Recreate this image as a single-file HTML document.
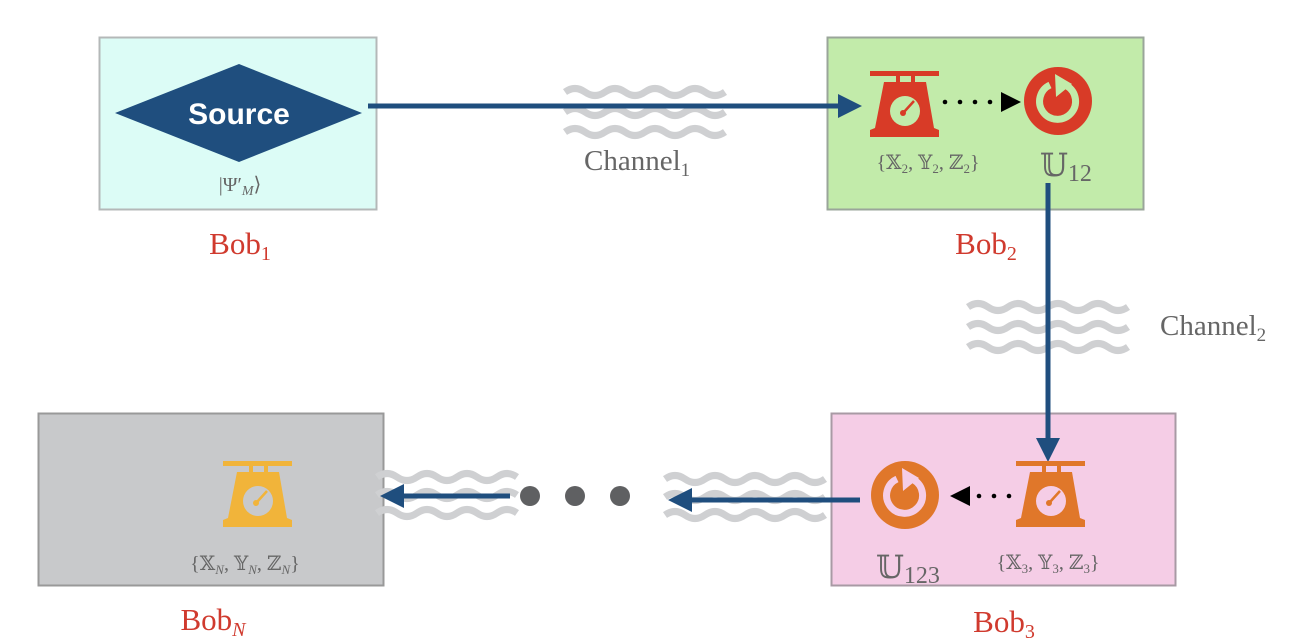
<!DOCTYPE html>
<html><head><meta charset="utf-8"><style>
body{margin:0;background:#fff;}
svg{display:block;font-family:"Liberation Serif","DejaVu Serif",serif;}
</style></head><body>
<svg width="1311" height="644" viewBox="0 0 1311 644" xmlns="http://www.w3.org/2000/svg">
<defs>
<g id="wave">
<path d="M0,0 q10,-7 20,0 t20,0 t20,0 t20,0 t20,0 t20,0 t20,0 t20,0" fill="none" stroke="#cfd0d2" stroke-width="7"/>
</g>
<g id="wave7">
<path d="M0,0 q10,-7 20,0 t20,0 t20,0 t20,0 t20,0 t20,0 t20,0" fill="none" stroke="#cfd0d2" stroke-width="7"/>
</g>
</defs>

<!-- Box 1 -->
<rect x="99.5" y="37.5" width="277" height="172" fill="#dcfcf6" stroke="#b4b8b8" stroke-width="2"/>
<polygon points="115,113 239,64 362,113 239,162" fill="#1f4e7e"/>
<text x="239" y="124" text-anchor="middle" fill="#fff" font-family="Liberation Sans,sans-serif" font-weight="bold" font-size="30">Source</text>
<text x="240" y="191" text-anchor="middle" fill="#666" font-size="20">|Ψ′<tspan font-style="italic" font-size="14" dy="4">M</tspan><tspan dy="-4">⟩</tspan></text>
<text x="240" y="254" text-anchor="middle" fill="#d03a2e" font-size="31">Bob<tspan font-size="20" dy="6">1</tspan></text>

<!-- Channel 1 -->
<use href="#wave" x="565" y="92"/><use href="#wave" x="565" y="112"/><use href="#wave" x="565" y="132"/>
<text x="584" y="170" fill="#666" font-size="29">Channel<tspan font-size="19" dy="6">1</tspan></text>
<line x1="368" y1="106" x2="842" y2="106" stroke="#1f4e7e" stroke-width="5"/>

<!-- Box 2 -->
<rect x="827.5" y="37.5" width="316" height="172" fill="#c2ebaa" stroke="#9aa59a" stroke-width="2"/>
<line x1="826" y1="106" x2="842" y2="106" stroke="#1f4e7e" stroke-width="5"/>
<polygon points="838,94 862,106 838,118" fill="#1f4e7e"/>
<g fill="#d83b27">
<rect x="870" y="71" width="69" height="5"/><rect x="896" y="75" width="4" height="8"/><rect x="911" y="75" width="4" height="8"/>
<path d="M884,82 L926,82 L934,128 L939,130 L939,137 L870,137 L870,130 L875,128 Z"/>
</g>
<circle cx="905" cy="111" r="15" fill="#c2ebaa"/>
<line x1="904" y1="112" x2="914" y2="101" stroke="#d83b27" stroke-width="2.5"/><circle cx="903" cy="113" r="3" fill="#d83b27"/>
<g fill="#000"><circle cx="945" cy="102" r="2.3"/><circle cx="960" cy="102" r="2.3"/><circle cx="975" cy="102" r="2.3"/><circle cx="990" cy="102" r="2.3"/>
<polygon points="1001,92 1021,102 1001,112"/></g>
<circle cx="1058" cy="101" r="34" fill="#d83b27"/>
<path d="M1067,86 A18,18 0 1 1 1050,85" fill="none" stroke="#c2ebaa" stroke-width="7"/>
<polygon points="1055,74 1072,84 1056,97" fill="#c2ebaa"/>
<text x="928" y="169" text-anchor="middle" fill="#666" font-size="20">{𝕏<tspan font-size="13" dy="4">2</tspan><tspan dy="-4">, 𝕐</tspan><tspan font-size="13" dy="4">2</tspan><tspan dy="-4">, ℤ</tspan><tspan font-size="13" dy="4">2</tspan><tspan dy="-4">}</tspan></text>
<text x="1040" y="176" fill="#666" font-size="32">𝕌<tspan font-size="24" dy="5">12</tspan></text>
<text x="986" y="254" text-anchor="middle" fill="#d03a2e" font-size="31">Bob<tspan font-size="20" dy="6">2</tspan></text>

<!-- Channel 2 -->
<use href="#wave" x="968" y="307"/><use href="#wave" x="968" y="327"/><use href="#wave" x="968" y="347"/>
<text x="1160" y="335" fill="#666" font-size="29">Channel<tspan font-size="19" dy="6">2</tspan></text>
<line x1="1048" y1="183" x2="1048" y2="442" stroke="#1f4e7e" stroke-width="5"/>

<!-- Box 3 -->
<rect x="831.5" y="413.5" width="344" height="172" fill="#f5cde6" stroke="#a89aa4" stroke-width="2"/>
<line x1="1048" y1="410" x2="1048" y2="442" stroke="#1f4e7e" stroke-width="5"/>
<polygon points="1036,438 1060,438 1048,462" fill="#1f4e7e"/>
<g fill="#e0772a">
<rect x="1016" y="461" width="69" height="5"/><rect x="1042" y="465" width="4" height="8"/><rect x="1057" y="465" width="4" height="8"/>
<path d="M1030,472 L1072,472 L1080,518 L1085,520 L1085,527 L1016,527 L1016,520 L1021,518 Z"/>
</g>
<circle cx="1051" cy="501" r="15" fill="#f5cde6"/>
<line x1="1050" y1="502" x2="1060" y2="491" stroke="#e0772a" stroke-width="2.5"/><circle cx="1049" cy="503" r="3" fill="#e0772a"/>
<g fill="#000"><polygon points="970,486 950,496 970,506"/>
<circle cx="979" cy="496" r="2.3"/><circle cx="994" cy="496" r="2.3"/><circle cx="1009" cy="496" r="2.3"/></g>
<circle cx="905" cy="495" r="34" fill="#e0772a"/>
<path d="M914,480 A18,18 0 1 1 897,479" fill="none" stroke="#f5cde6" stroke-width="7"/>
<polygon points="902,468 919,478 903,491" fill="#f5cde6"/>
<text x="1048" y="569" text-anchor="middle" fill="#666" font-size="20">{𝕏<tspan font-size="13" dy="4">3</tspan><tspan dy="-4">, 𝕐</tspan><tspan font-size="13" dy="4">3</tspan><tspan dy="-4">, ℤ</tspan><tspan font-size="13" dy="4">3</tspan><tspan dy="-4">}</tspan></text>
<text x="876" y="578" fill="#666" font-size="32">𝕌<tspan font-size="24" dy="5">123</tspan></text>
<text x="1004" y="632" text-anchor="middle" fill="#d03a2e" font-size="31">Bob<tspan font-size="20" dy="6">3</tspan></text>

<!-- middle waves/arrows -->
<use href="#wave" x="665" y="479"/><use href="#wave" x="665" y="497"/><use href="#wave" x="665" y="515"/>
<line x1="860" y1="500" x2="688" y2="500" stroke="#1f4e7e" stroke-width="5"/>
<polygon points="692,488 668,500 692,512" fill="#1f4e7e"/>
<g fill="#5f6062"><circle cx="530" cy="496" r="10"/><circle cx="575" cy="496" r="10"/><circle cx="620" cy="496" r="10"/></g>

<!-- Box N -->
<rect x="38.5" y="413.5" width="345" height="172" fill="#c8c9cb" stroke="#999" stroke-width="2"/>
<use href="#wave7" x="377" y="477"/><use href="#wave7" x="377" y="495"/><use href="#wave7" x="377" y="513"/>
<line x1="510" y1="496" x2="400" y2="496" stroke="#1f4e7e" stroke-width="5"/>
<polygon points="404,484 380,496 404,508" fill="#1f4e7e"/>
<g fill="#f1b43a">
<rect x="223" y="461" width="69" height="5"/><rect x="249" y="465" width="4" height="8"/><rect x="264" y="465" width="4" height="8"/>
<path d="M237,472 L279,472 L287,518 L292,520 L292,527 L223,527 L223,520 L228,518 Z"/>
</g>
<circle cx="258" cy="501" r="15" fill="#c8c9cb"/>
<line x1="257" y1="502" x2="267" y2="491" stroke="#f1b43a" stroke-width="2.5"/><circle cx="256" cy="503" r="3" fill="#f1b43a"/>
<text x="245" y="570" text-anchor="middle" fill="#666" font-size="20">{𝕏<tspan font-size="13" dy="4" font-style="italic">N</tspan><tspan dy="-4">, 𝕐</tspan><tspan font-size="13" dy="4" font-style="italic">N</tspan><tspan dy="-4">, ℤ</tspan><tspan font-size="13" dy="4" font-style="italic">N</tspan><tspan dy="-4">}</tspan></text>
<text x="213" y="630" text-anchor="middle" fill="#d03a2e" font-size="31">Bob<tspan font-size="20" dy="6" font-style="italic">N</tspan></text>
</svg>
</body></html>
